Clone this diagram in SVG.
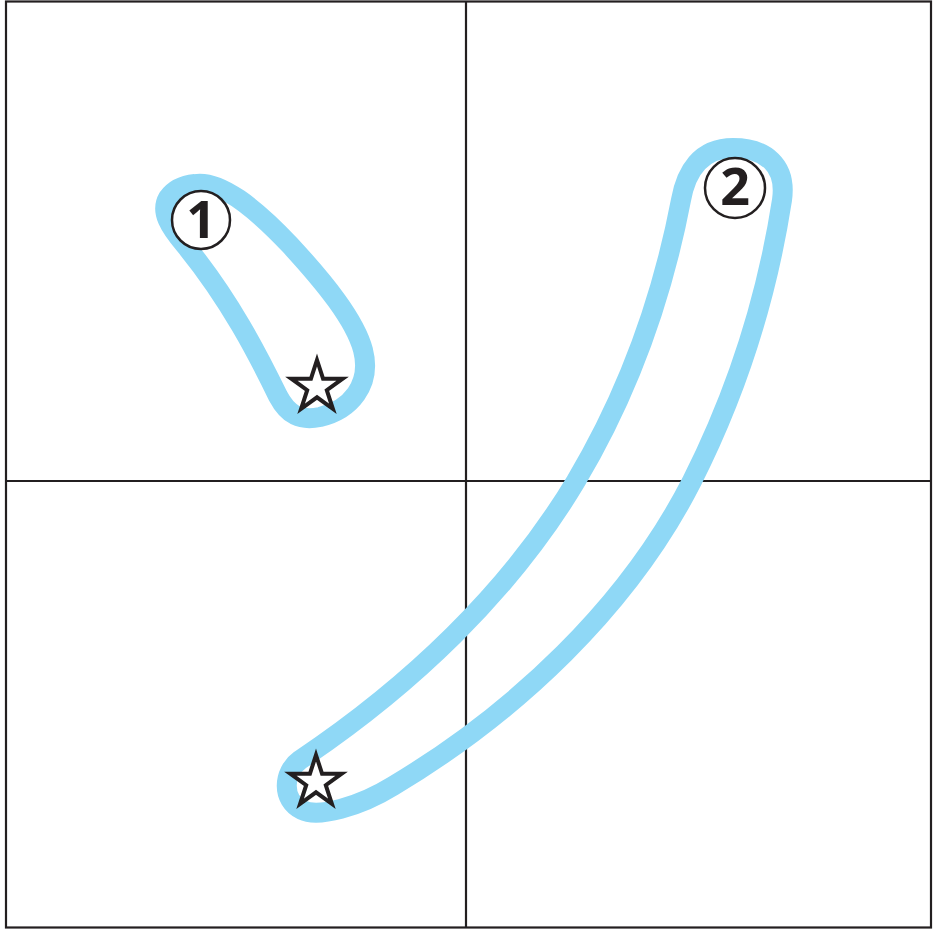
<svg xmlns="http://www.w3.org/2000/svg" xmlns:xlink="http://www.w3.org/1999/xlink" width="936" height="932" viewBox="0 0 936 932">
  <style>
    .grid { fill: none; stroke: #231F20; stroke-width: 2.2; }
    .loop { fill: none; stroke: #8FD8F6; stroke-width: 20; stroke-linejoin: round; }
    .badge { fill: #FFFFFF; stroke: #231F20; stroke-width: 2.5; }
    .num { font-family: "Open Sans", "Liberation Sans", sans-serif; font-weight: 700; font-size: 52px; fill: #231F20; text-anchor: middle; }
    .star { fill: #FFFFFF; stroke: #231F20; stroke-width: 4; stroke-linejoin: miter; }
  </style>
  <defs>
    <polygon id="starShape" class="star" points="0,-27 6.05,-8.33 25.68,-8.34 9.8,3.18 15.87,21.84 0,10.3 -15.87,21.84 -9.8,3.18 -25.68,-8.34 -6.05,-8.33"/>
  </defs>
  <rect width="936" height="932" fill="#FFFFFF"/>
  <g id="grid">
    <rect class="grid" x="6" y="1.5" width="925" height="926"/>
    <line class="grid" x1="466" y1="1.5" x2="466" y2="927.5"/>
    <line class="grid" x1="6" y1="481" x2="931" y2="481"/>
  </g>
  <g id="connectors">
    <path id="loop1" class="loop" d="M 195 184 C 220 180, 255 208, 290 245 C 325 283, 355 320, 363 350 C 372 385, 350 410, 320 417 C 300 421, 288 415, 278 396 C 258 355, 230 300, 185 245 C 170 227, 160 212, 168 198 C 175 188, 185 185, 195 184 Z"/>
    <path id="loop2" class="loop" d="M 733 148 C 700 148, 686 172, 681 200 C 663 294, 632 387, 576 481 C 509 593, 409 687, 300 760 C 283 772, 281 800, 302 810 C 318 818, 359 807, 393 786 C 515 713, 628 607, 692 481 C 736 394, 767 297, 782 200 C 787 165, 765 148, 733 148 Z"/>
  </g>
  <g id="node-1">
    <circle class="badge" cx="201" cy="220" r="29"/>
    <text class="num" x="201" y="238">1</text>
  </g>
  <g id="node-star-1">
    <use xlink:href="#starShape" href="#starShape" x="317" y="387"/>
  </g>
  <g id="node-2">
    <circle class="badge" cx="735" cy="188" r="30"/>
    <text class="num" x="735" y="205">2</text>
  </g>
  <g id="node-star-2">
    <use xlink:href="#starShape" href="#starShape" x="316" y="782"/>
  </g>
</svg>
